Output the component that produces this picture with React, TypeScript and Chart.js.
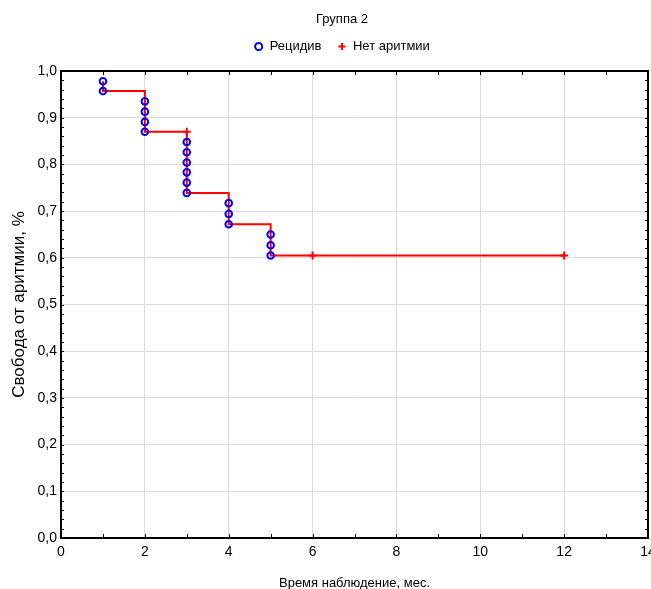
import { useEffect, useRef } from 'react';
import { Chart, registerables } from 'chart.js';

Chart.register(...registerables);

const chartTitle = 'Группа 2';
const seriesNames = ['Рецидив', 'Нет аритмии'];
const xAxisTitle = 'Время наблюдение, мес.';
const yAxisTitle = 'Свобода от аритмии, %';

// Kaplan–Meier step curve
const stepTimes = [1, 1, 2, 3, 4, 5, 12];
const stepLevels = [0.978, 0.957, 0.870, 0.739, 0.672, 0.605, 0.605];

// complete (event) observations
const eventTimes = [1, 1, 2, 2, 2, 2, 3, 3, 3, 3, 3, 3, 4, 4, 4, 5, 5, 5];
const eventLevels = [0.978, 0.957, 0.935, 0.913, 0.891, 0.870, 0.848, 0.826, 0.804, 0.783, 0.761, 0.739, 0.717, 0.694, 0.672, 0.650, 0.627, 0.605];

// censored observations
const censorTimes = [3, 6, 12];
const censorLevels = [0.870, 0.605, 0.605];

const xTicks = [0, 2, 4, 6, 8, 10, 12, 14];
const yTicks = [0, 0.1, 0.2, 0.3, 0.4, 0.5, 0.6, 0.7, 0.8, 0.9, 1.0];

const FONT = '"Liberation Sans", Arial, sans-serif';
const PAD_LEFT = 36;
const PLOT_LEFT = 61;

const framePlugin = {
  id: 'frame',
  afterDatasetsDraw(chart: any) {
    const { ctx, chartArea, scales } = chart;
    const { left, right, top, bottom } = chartArea;
    const x = scales.x;
    const y = scales.y;
    ctx.save();
    ctx.strokeStyle = '#000';
    ctx.lineWidth = 1;
    ctx.beginPath();
    for (let v = x.min; v <= x.max + 1e-9; v += 1) {
      const px = Math.round(x.getPixelForValue(v)) + 0.5;
      ctx.moveTo(px, bottom);
      ctx.lineTo(px, bottom - 4);
      ctx.moveTo(px, top);
      ctx.lineTo(px, top + 4);
    }
    for (let i = 0; i <= 50; i++) {
      const v = i * 0.02;
      const py = Math.round(y.getPixelForValue(v)) + 0.5;
      ctx.moveTo(left, py);
      ctx.lineTo(left + 3, py);
      ctx.moveTo(right, py);
      ctx.lineTo(right - 3, py);
    }
    ctx.stroke();
    ctx.lineWidth = 2;
    ctx.strokeRect(left, top, right - left, bottom - top);
    ctx.restore();
  },
};

export default function App() {
  const ref = useRef<HTMLCanvasElement | null>(null);
  useEffect(() => {
    document.body.style.margin = '0';
    const canvas = ref.current;
    if (!canvas) return;
    const chart = new Chart(canvas, {
      type: 'scatter',
      data: {
        datasets: [
          {
            label: seriesNames[0],
            data: eventTimes.map((t, i) => ({ x: t, y: eventLevels[i] })),
            pointStyle: 'circle',
            pointRadius: 3.3,
            pointBorderWidth: 2,
            borderColor: '#0000ff',
            backgroundColor: 'rgba(0,0,0,0)',
            order: 0,
          },
          {
            label: seriesNames[1],
            data: censorTimes.map((t, i) => ({ x: t, y: censorLevels[i] })),
            pointStyle: 'cross',
            pointRadius: 4,
            pointBorderWidth: 2,
            borderColor: '#ff0000',
            backgroundColor: '#ff0000',
            order: 1,
          },
          {
            type: 'line',
            label: 'curve',
            data: stepTimes.map((t, i) => ({ x: t, y: stepLevels[i] })),
            stepped: 'before',
            borderColor: '#ff0000',
            borderWidth: 2,
            pointRadius: 0,
            fill: false,
            showLine: true,
            order: 2,
          } as any,
        ],
      },
      options: {
        animation: false,
        responsive: false,
        maintainAspectRatio: false,
        layout: { autoPadding: false, padding: { left: PAD_LEFT, right: 3, top: 0, bottom: 0 } },
        plugins: {
          title: {
            display: true,
            text: chartTitle,
            color: '#000',
            font: { family: FONT, size: 13, weight: 'normal', lineHeight: 1 },
            padding: { top: 13, bottom: -2 },
          },
          subtitle: {
            display: true,
            text: ' ',
            weight: 500,
            font: { family: FONT, size: 1, lineHeight: 1 },
            padding: { top: 0, bottom: 7 },
          } as any,
          legend: {
            display: true,
            labels: {
              usePointStyle: true,
              boxWidth: 9,
              boxHeight: 5,
              color: '#000',
              font: { family: FONT, size: 13 },
              padding: 16,
              filter: (item: any) => item.datasetIndex !== 2,
            },
          },
          tooltip: { enabled: false },
        },
        scales: {
          x: {
            type: 'linear',
            min: 0,
            max: 14,
            afterBuildTicks: (scale: any) => {
              scale.ticks = xTicks.map((v) => ({ value: v }));
            },
            afterFit: (scale: any) => {
              scale.height = 51;
              scale.paddingLeft = 0;
              scale.paddingRight = 0;
            },
            grid: { color: '#dadada', lineWidth: 1, drawTicks: false },
            border: { display: false },
            ticks: {
              color: '#000',
              font: { family: FONT, size: 14 },
              padding: 6,
              maxRotation: 0,
              autoSkip: false,
            },
            title: {
              display: true,
              text: xAxisTitle,
              color: '#000',
              font: { family: FONT, size: 13, lineHeight: 1 },
              padding: { top: 0, bottom: -1 },
            },
          },
          y: {
            type: 'linear',
            min: 0,
            max: 1,
            afterBuildTicks: (scale: any) => {
              scale.ticks = yTicks.map((v) => ({ value: v }));
            },
            afterFit: (scale: any) => {
              scale.width = PLOT_LEFT - PAD_LEFT;
              scale.paddingTop = 0;
              scale.paddingBottom = 0;
            },
            grid: { color: '#dadada', lineWidth: 1, drawTicks: false },
            border: { display: false },
            ticks: {
              color: '#000',
              font: { family: FONT, size: 14 },
              padding: 4,
              autoSkip: false,
              callback: (v: any) => Number(v).toFixed(1).replace('.', ','),
            },
            title: {
              display: true,
              text: yAxisTitle,
              color: '#000',
              font: { family: FONT, size: 17, lineHeight: 1 },
              padding: { top: 11 - PAD_LEFT, bottom: 0 },
            },
          },
        },
      },
      plugins: [framePlugin],
    });
    return () => chart.destroy();
  }, []);
  return <canvas ref={ref} width={651} height={589} style={{ display: 'block' }} />;
}
